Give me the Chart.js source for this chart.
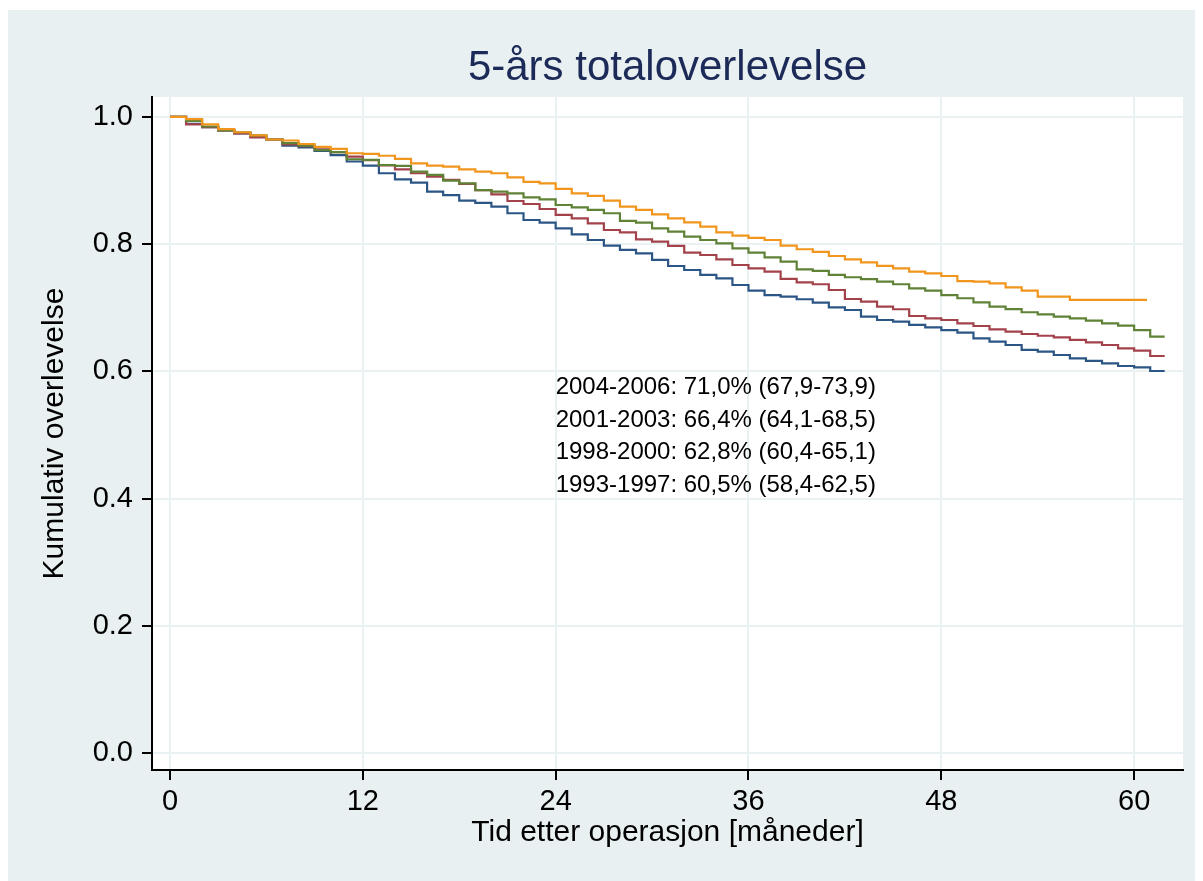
<!DOCTYPE html>
<html>
<head>
<meta charset="utf-8">
<script src="https://cdn.jsdelivr.net/npm/chart.js@4.4.1/dist/chart.umd.min.js"></script>
<style>
  html, body { margin: 0; padding: 0; background: #fff; }
  #wrap { width: 1203px; height: 881px; }
</style>
</head>
<body>
<div id="wrap"><canvas id="kmChart" width="1203" height="881"></canvas></div>
<script>
// months since surgery (step times)
const months = [0,1,2,3,4,5,6,7,8,9,10,11,12,13,14,15,16,17,18,19,20,21,22,23,24,25,26,27,28,29,
  30,31,32,33,34,35,36,37,38,39,40,41,42,43,44,45,46,47,48,49,50,51,52,53,54,55,56,57,58,59,60,61];

const xTicks = [0, 12, 24, 36, 48, 60];
const yTicks = [0, 0.2, 0.4, 0.6, 0.8, 1.0];

const seriesLabels = ['2004-2006', '2001-2003', '1998-2000', '1993-1997'];
const endOfFollowUp = [60.8, 61.9, 61.9, 61.9];

const surv2004 = [1.0,0.9965,0.9885,0.981,0.976,0.971,0.9646,0.963,0.9575,0.953,0.9497,0.943,0.942,0.939,
  0.934,0.927,0.9235,0.922,0.9177,0.914,0.9115,0.905,0.898,0.8957,0.887,0.880,0.8758,0.8684,0.859,0.8538,
  0.847,0.8407,0.8344,0.8275,0.8187,0.8134,0.810,0.8066,0.7977,0.792,0.788,0.7814,0.776,0.7715,0.766,
  0.762,0.7568,0.754,0.750,0.742,0.741,0.7385,0.732,0.727,0.7175,0.7175,0.7125,0.7125,0.7125,0.7125,0.7125];

const surv2001 = [1.0,0.994,0.985,0.979,0.976,0.971,0.9646,0.959,0.955,0.948,0.9447,0.9335,0.9324,0.9245,
  0.923,0.914,0.909,0.900,0.8957,0.885,0.8826,0.880,0.8737,0.8705,0.8616,0.858,0.8538,0.8486,0.8365,0.834,
  0.825,0.8197,0.8118,0.8066,0.8014,0.7935,0.7866,0.7793,0.7725,0.7605,0.758,0.7516,0.748,0.745,0.741,
  0.737,0.7306,0.727,0.720,0.715,0.7086,0.7018,0.698,0.693,0.6897,0.686,0.6835,0.6798,0.6756,0.672,0.665,0.6546];

const surv1998 = [1.0,0.9885,0.984,0.979,0.974,0.968,0.9646,0.957,0.954,0.949,0.9447,0.9376,0.932,0.924,
  0.9177,0.9115,0.906,0.901,0.8947,0.885,0.8784,0.8679,0.8632,0.8553,0.846,0.8407,0.8328,0.8223,0.8187,0.8077,
  0.804,0.7972,0.7866,0.783,0.7762,0.7673,0.762,0.7568,0.7455,0.740,0.737,0.728,0.7138,0.7096,0.7018,
  0.6977,0.6871,0.6835,0.6808,0.6756,0.6714,0.666,0.6624,0.6588,0.656,0.6536,0.6494,0.6457,0.6415,0.6363,0.6325,0.6242];

const surv1993 = [1.0,0.989,0.984,0.979,0.974,0.969,0.9646,0.955,0.952,0.9465,0.940,0.930,0.9235,0.9115,
  0.902,0.8967,0.8826,0.877,0.8684,0.865,0.859,0.8486,0.838,0.834,0.825,0.8155,0.8066,0.7977,0.791,0.7857,
  0.7752,0.7657,0.7594,0.7516,0.7463,0.7358,0.7269,0.720,0.7175,0.7134,0.708,0.7008,0.6965,0.686,0.6808,
  0.6782,0.673,0.6693,0.665,0.6609,0.652,0.6467,0.6415,0.6337,0.631,0.6258,0.6205,0.6164,0.6127,0.6085,0.6064,0.6006];

const summaryLines = [
  '2004-2006: 71,0% (67,9-73,9)',
  '2001-2003: 66,4% (64,1-68,5)',
  '1998-2000: 62,8% (60,4-65,1)',
  '1993-1997: 60,5% (58,4-62,5)'
];

const lineColors = ['#f1951c', '#5f8237', '#a3424a', '#2a5585'];
const allSeries = [surv2004, surv2001, surv1998, surv1993];

function toSteps(vals, end) {
  const pts = vals.map((v, i) => ({ x: months[i], y: v }));
  pts.push({ x: end, y: vals[vals.length - 1] });
  return pts;
}

const FONT = '"Liberation Sans", Arial, sans-serif';

// page background, plot area, title and the text block
const stataLook = {
  id: 'stataLook',
  beforeDraw(chart) {
    const { ctx, chartArea } = chart;
    ctx.save();
    ctx.fillStyle = '#ffffff';
    ctx.fillRect(0, 0, chart.width, chart.height);
    ctx.fillStyle = '#e9f0f2';
    ctx.fillRect(8, 10, 1187, chart.height - 10);
    ctx.fillStyle = '#ffffff';
    ctx.fillRect(chartArea.left, chartArea.top, chartArea.right - chartArea.left, chartArea.bottom - chartArea.top);
    ctx.restore();
  },
  afterDraw(chart) {
    const { ctx, chartArea, scales } = chart;
    ctx.save();
    ctx.fillStyle = '#1c2a58';
    ctx.font = '42px ' + FONT;
    ctx.textAlign = 'center';
    ctx.textBaseline = 'alphabetic';
    ctx.fillText('5-års totaloverlevelse', (chartArea.left + chartArea.right) / 2, 80);

    ctx.fillStyle = '#000';
    ctx.font = '24px ' + FONT;
    ctx.textAlign = 'left';
    const x0 = scales.x.getPixelForValue(24);
    const y0 = scales.y.getPixelForValue(0.5645);
    summaryLines.forEach((t, i) => {
      ctx.fillText(t, x0, y0 + i * 32.7);
    });
    ctx.restore();
  }
};

const ctx = document.getElementById('kmChart');
new Chart(ctx, {
  type: 'line',
  data: {
    datasets: allSeries.map((vals, i) => ({
      label: seriesLabels[i],
      data: toSteps(vals, endOfFollowUp[i]),
      borderColor: lineColors[i],
      borderWidth: 2.2,
      stepped: true,
      pointRadius: 0,
      fill: false
    }))
  },
  options: {
    responsive: false,
    animation: false,
    layout: { padding: { top: 97, left: 33, right: 20, bottom: 21 } },
    plugins: {
      legend: { display: false },
      tooltip: { enabled: false }
    },
    scales: {
      x: {
        type: 'linear',
        min: -1.12,
        max: 63.04,
        afterBuildTicks: (scale) => { scale.ticks = xTicks.map(v => ({ value: v })); },
        afterFit: (scale) => { scale.height = 90; },
        grid: { color: '#eaf1f3', lineWidth: 2, tickColor: '#000', tickLength: 10, tickWidth: 2 },
        border: { color: '#000', width: 2 },
        ticks: { color: '#000', font: { family: FONT, size: 29 }, padding: 5, maxRotation: 0 },
        title: {
          display: true,
          text: 'Tid etter operasjon [måneder]',
          color: '#000',
          font: { family: FONT, size: 30 },
          padding: { top: 0, bottom: 9 }
        }
      },
      y: {
        min: -0.0267,
        max: 1.0314,
        afterBuildTicks: (scale) => { scale.ticks = yTicks.map(v => ({ value: v })); },
        afterFit: (scale) => { scale.width = 119; },
        grid: { color: '#eaf1f3', lineWidth: 2, tickColor: '#000', tickLength: 10, tickWidth: 2 },
        border: { color: '#000', width: 2 },
        ticks: {
          color: '#000',
          font: { family: FONT, size: 29 },
          padding: 9,
          callback: (v) => Number(v).toFixed(1)
        },
        title: {
          display: true,
          text: 'Kumulativ overlevelse',
          color: '#000',
          font: { family: FONT, size: 30 },
          padding: { top: 4, bottom: 0 }
        }
      }
    }
  },
  plugins: [stataLook]
});
</script>
</body>
</html>
